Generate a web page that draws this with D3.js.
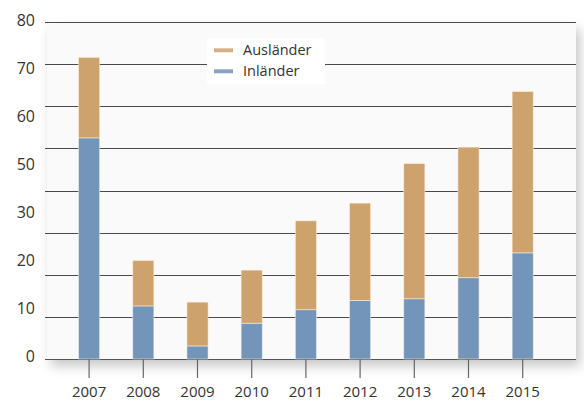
<!DOCTYPE html>
<html>
<head>
<meta charset="utf-8">
<script src="https://cdn.jsdelivr.net/npm/d3@7"></script>
<style>
  body { margin: 0; background: #fff; }
  svg { display: block; font-family: "Open Sans", sans-serif; }
</style>
</head>
<body>
<script>
const years = ["2007", "2008", "2009", "2010", "2011", "2012", "2013", "2014", "2015"];
const inlaender = [52.5, 12.6, 3.1, 8.5, 11.7, 13.9, 14.3, 19.3, 25.2];
const auslaender = [19.1, 10.8, 10.4, 12.6, 21.1, 23.1, 32.1, 31.0, 38.3];
const seriesNames = ["Inländer", "Ausländer"];
const yTickLabels = ["0", "10", "20", "30", "50", "60", "70", "80"];
const gridValues = [0, 10, 20, 30, 40, 50, 60, 70, 80];

const width = 584, height = 401;
const colors = { "Inländer": "#7295b9", "Ausländer": "#cda26d" };

const svg = d3.select("body")
    .append("svg")
    .attr("width", width)
    .attr("height", height);

const defs = svg.append("defs");
const shadow = defs.append("filter")
    .attr("id", "shadow")
    .attr("x", "-10%").attr("y", "-10%")
    .attr("width", "130%").attr("height", "130%");
shadow.append("feDropShadow")
    .attr("dx", 4).attr("dy", 7)
    .attr("stdDeviation", 6)
    .attr("flood-color", "#000")
    .attr("flood-opacity", 0.22);

const x = d3.scaleBand()
    .domain(years)
    .range([62, 549.8])
    .paddingInner(0.61)
    .paddingOuter(0.305);

const y = d3.scaleLinear()
    .domain([0, 80])
    .range([359, 22]);

// label positions in the original don't line up with the grid
const yLabel = d3.scalePoint()
    .domain(yTickLabels)
    .range([356, 20.5]);

// plot background
svg.append("rect")
    .attr("x", 47).attr("y", y(80))
    .attr("width", 529).attr("height", y(0) - y(80))
    .attr("fill", "#fafafa")
    .attr("filter", "url(#shadow)");

svg.append("g")
    .selectAll("line")
    .data(gridValues)
    .enter()
    .append("line")
    .attr("x1", 45).attr("x2", 576)
    .attr("y1", d => Math.round(y(d)) + 0.5)
    .attr("y2", d => Math.round(y(d)) + 0.5)
    .attr("stroke", d => d === 0 ? "#555" : "#4a4a4a")
    .attr("stroke-width", 1.1);

const table = years.map((yr, i) => ({ year: yr, "Inländer": inlaender[i], "Ausländer": auslaender[i] }));
const stacked = d3.stack().keys(seriesNames)(table);

svg.append("g")
    .selectAll("g")
    .data(stacked)
    .enter()
    .append("g")
    .attr("fill", d => colors[d.key])
    .selectAll("rect")
    .data(d => d)
    .enter()
    .append("rect")
    .attr("x", d => x(d.data.year))
    .attr("y", d => y(d[1]))
    .attr("width", x.bandwidth())
    .attr("height", d => y(d[0]) - y(d[1]))
    .attr("stroke", "rgba(255,240,225,0.7)")
    .attr("stroke-width", 0.8);

// x axis ticks and labels
const xAxis = svg.append("g")
    .attr("transform", "translate(0,359)")
    .call(d3.axisBottom(x).tickSize(19).tickPadding(8));
xAxis.select(".domain").remove();
xAxis.selectAll(".tick line").attr("stroke", "#666").attr("stroke-width", 1.2);
xAxis.selectAll(".tick text")
    .attr("fill", "#333")
    .style("font-size", "15px")
    .style("font-family", "'Open Sans', sans-serif");

// y labels
svg.append("g")
    .selectAll("text")
    .data(yTickLabels)
    .enter()
    .append("text")
    .attr("x", 35)
    .attr("y", d => yLabel(d))
    .attr("dy", "0.36em")
    .attr("text-anchor", "end")
    .attr("fill", "#333")
    .style("font-size", "16px")
    .text(d => d);

// legend
const legend = svg.append("g");
legend.append("rect")
    .attr("x", 207).attr("y", 38)
    .attr("width", 118).attr("height", 46)
    .attr("fill", "#fff");

const legendItems = legend.selectAll(".legend")
    .data(["Ausländer", "Inländer"])
    .enter()
    .append("g")
    .attr("class", "legend")
    .attr("transform", (d, i) => "translate(214," + (48.3 + i * 21) + ")");

legendItems.append("rect")
    .attr("width", 19)
    .attr("height", 4)
    .attr("fill", d => colors[d])
    .attr("opacity", 0.85);

legendItems.append("text")
    .attr("x", 29)
    .attr("y", 2)
    .attr("dy", "0.35em")
    .attr("fill", "#333")
    .style("font-size", "14.5px")
    .text(d => d);
</script>
</body>
</html>
